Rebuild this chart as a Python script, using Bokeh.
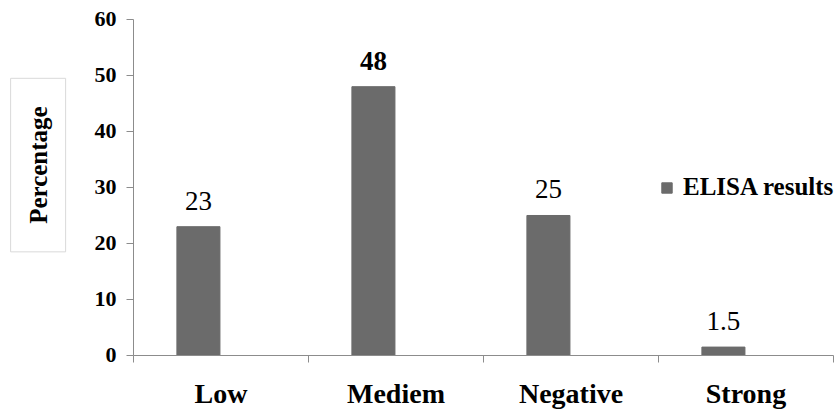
from bokeh.plotting import figure
from bokeh.models import ColumnDataSource, Range1d, FixedTicker, Label
from bokeh.core.properties import field
from bokeh.embed import file_html
from bokeh.resources import INLINE

categories = ["Low", "Mediem", "Negative", "Strong"]
values = [23, 48, 25, 1.5]
value_labels = ["23", "48", "25", "1.5"]
y_ticks = [0, 10, 20, 30, 40, 50, 60]
series_name = "ELISA results"
y_title = "Percentage"

# styling
label_styles = ["normal", "bold", "normal", "normal"]
BAR_OFFSET = 0.371
BAR_WIDTH = 0.246
BAR_COLOR = "#6b6b6b"
AXIS_COLOR = "#8c8c8c"
SERIF = "serif"

idx = list(range(len(categories)))
src = ColumnDataSource(dict(
    x=[i + BAR_OFFSET for i in idx],
    top=values,
    lab=value_labels,
    style=label_styles,
))

# frame covers the whole canvas; axes are pinned at x = 0 / y = 0
p = figure(width=838, height=412, output_backend="svg", toolbar_location=None,
           x_range=Range1d(-0.76, 4.0286), y_range=Range1d(-10.18, 63.39),
           min_border_left=0, min_border_right=0, min_border_top=0,
           min_border_bottom=0)
p.outline_line_color = None
p.xgrid.visible = False
p.ygrid.visible = False

p.vbar(x="x", top="top", width=BAR_WIDTH, source=src, color=BAR_COLOR,
       legend_label=series_name)
p.text(x="x", y="top", text="lab", source=src, text_align="center",
       text_baseline="alphabetic", y_offset=-26, text_font_size="27px",
       text_font={"value": SERIF}, text_font_style=field("style"),
       text_color="black")

# y axis
p.yaxis.fixed_location = 0
p.yaxis.bounds = (0, 60)
p.yaxis.ticker = FixedTicker(ticks=y_ticks)
p.yaxis.axis_line_color = AXIS_COLOR
p.yaxis.major_tick_line_color = AXIS_COLOR
p.yaxis.major_tick_out = 7
p.yaxis.major_tick_in = 0
p.yaxis.minor_tick_line_color = None
p.yaxis.major_label_standoff = 10
p.yaxis.major_label_text_font = SERIF
p.yaxis.major_label_text_font_style = "bold"
p.yaxis.major_label_text_font_size = "22px"
p.yaxis.major_label_text_color = "black"

# x axis
centers = [i + 0.5 for i in idx]
bounds = list(range(len(categories) + 1))
p.xaxis.fixed_location = 0
p.xaxis.bounds = (0, len(categories))
p.xaxis.ticker = FixedTicker(ticks=centers, minor_ticks=bounds)
p.xaxis.major_label_overrides = {c: name for c, name in zip(centers, categories)}
p.xaxis.axis_line_color = AXIS_COLOR
p.xaxis.major_tick_line_color = None
p.xaxis.major_tick_out = 0
p.xaxis.major_tick_in = 0
p.xaxis.minor_tick_line_color = AXIS_COLOR
p.xaxis.minor_tick_out = 7
p.xaxis.minor_tick_in = 0
p.xaxis.major_label_standoff = 16
p.xaxis.major_label_text_font = SERIF
p.xaxis.major_label_text_font_style = "bold"
p.xaxis.major_label_text_font_size = "28px"
p.xaxis.major_label_text_color = "black"

# legend
lg = p.legend[0]
lg.location = (660, 210)
lg.padding = 0
lg.margin = 0
lg.border_line_color = None
lg.background_fill_alpha = 0
lg.glyph_width = 13
lg.glyph_height = 13
lg.label_standoff = 10
lg.label_height = 30
lg.label_text_font = SERIF
lg.label_text_font_style = "bold"
lg.label_text_font_size = "25px"
lg.label_text_color = "black"

# boxed y-axis title
t = Label(x=-0.545, y=34, text=y_title, angle=1.5707963, text_align="center",
          text_baseline="middle", text_font=SERIF,
          text_font_style="bold", text_font_size="25px", text_color="black",
          border_line_color="#d9d9d9", padding=(28, 14))
p.add_layout(t)

open("out.html", "w").write(file_html(p, INLINE))
